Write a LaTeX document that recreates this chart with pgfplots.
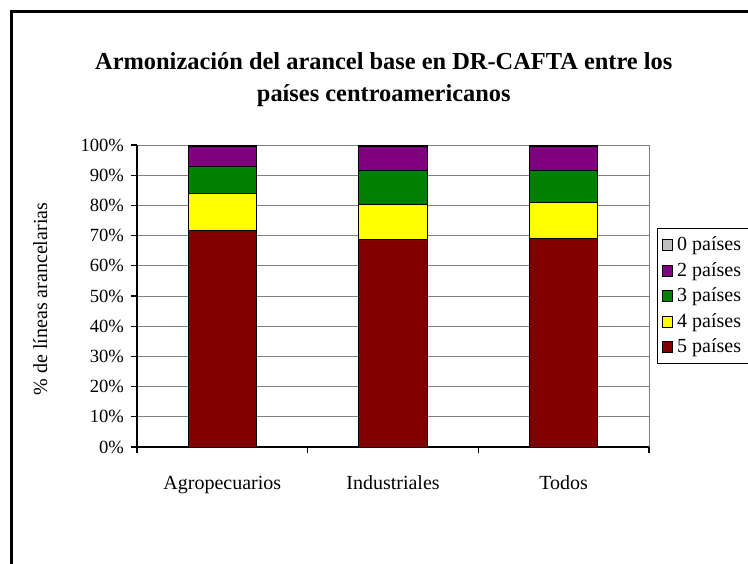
\documentclass[border=0pt]{standalone}
\usepackage{fontspec}
\setmainfont{Liberation Serif}
\usepackage{pgfplots}
\pgfplotsset{compat=1.18}
\definecolor{c5}{HTML}{800000}
\definecolor{c4}{HTML}{FFFF00}
\definecolor{c3}{HTML}{008000}
\definecolor{c2}{HTML}{800080}
\definecolor{c0}{HTML}{C0C0C0}
\definecolor{gridgray}{HTML}{808080}

\begin{document}
\begin{tikzpicture}
\useasboundingbox (0,0) rectangle (374pt,-281.5pt);
\begin{scope}
\clip (0,0) rectangle (374pt,-281.5pt);
\draw[line width=1.5pt] (5.5pt,-5.5pt) rectangle (400pt,-300pt);
\end{scope}
\begin{axis}[
  at={(68.5pt,-223.5pt)}, anchor=south west,
  scale only axis, width=256pt, height=151pt,
  ybar stacked, bar width=0.4,
  xmin=-0.5, xmax=2.5, ymin=0, ymax=100,
  axis x line*=bottom, axis y line*=left,
  axis line style={black, line width=0.6pt},
  tick align=outside,
  major tick length=3pt, minor tick length=3pt,
  xtick={0,1,2},
  xticklabels={Agropecuarios,Industriales,Todos},
  major x tick style={draw=none},
  minor xtick={-0.5,0.5,1.5,2.5},
  minor x tick style={black, line width=0.6pt},
  ytick={0,10,...,100},
  yticklabels={0\%,10\%,20\%,30\%,40\%,50\%,60\%,70\%,80\%,90\%,100\%},
  y tick style={black, line width=0.6pt},
  yticklabel style={font=\fontsize{9.3}{10}\selectfont},
  xticklabel style={yshift=-8pt, font=\fontsize{10}{11}\selectfont},
  ymajorgrids,
  major grid style={gridgray, line width=0.5pt},
  ylabel={\% de líneas arancelarias},
  ylabel style={at={(axis description cs:-0.189,0.49)}, anchor=center, font=\fontsize{10}{11}\selectfont},
  title={\textbf{Armonización del arancel base en DR-CAFTA entre los}\\\textbf{países centroamericanos}},
  title style={at={(axis description cs:0.482,1.176)}, anchor=center, align=center, font=\fontsize{12.2}{16}\selectfont},
  reverse legend,
  legend style={at={(axis description cs:1.0156,0.725)}, anchor=north west, draw=black, line width=0.6pt,
    font=\fontsize{10}{11}\selectfont, row sep=0.3pt, inner xsep=2pt, inner ysep=2pt},
  legend cell align=left,
  legend image code/.code={\draw[#1,draw=black,line width=0.4pt] (0pt,-2.7pt) rectangle (5.4pt,2.7pt);},
  after end axis/.code={\draw[gridgray, line width=0.5pt] (rel axis cs:1,0) -- (rel axis cs:1,1);},
]
\addplot[fill=c5, draw=black, line width=0.4pt] coordinates {(0,71.7) (1,68.7) (2,69.0)};
\addplot[fill=c4, draw=black, line width=0.4pt] coordinates {(0,12.4) (1,11.5) (2,11.9)};
\addplot[fill=c3, draw=black, line width=0.4pt] coordinates {(0,8.9) (1,11.4) (2,10.7)};
\addplot[fill=c2, draw=black, line width=0.4pt] coordinates {(0,6.4) (1,7.8) (2,7.8)};
\addplot[fill=c0, draw=black, line width=0.4pt] coordinates {(0,0.6) (1,0.6) (2,0.6)};
\legend{5 países,4 países,3 países,2 países,0 países}
\end{axis}
\end{tikzpicture}
\end{document}
